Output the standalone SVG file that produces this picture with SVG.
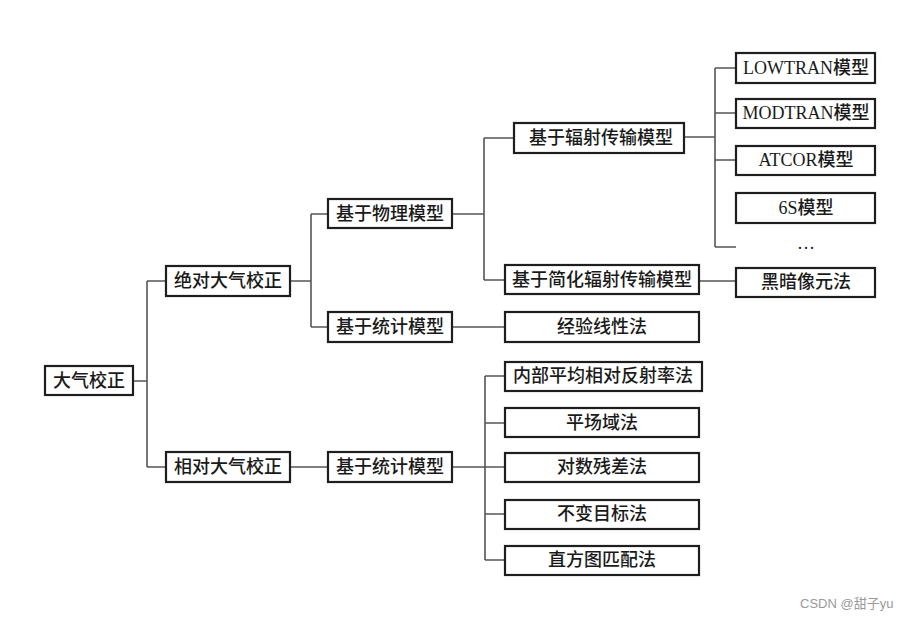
<svg xmlns="http://www.w3.org/2000/svg" width="907" height="617" viewBox="0 0 907 617">
<style>
.b{fill:#fff;stroke:#1e1e1e;stroke-width:2.2}
.t{font-family:"Liberation Serif","Noto Sans CJK SC",serif;font-size:18px;font-weight:500;fill:#1a1a1a;text-anchor:middle;dominant-baseline:central}
.c{fill:none;stroke:#555;stroke-width:1.6}
.w{font-family:"Liberation Sans","Noto Sans CJK SC",sans-serif;font-size:13px;fill:#999}
</style>
<rect width="907" height="617" fill="#fff"/>
<g id="connectors" class="c">
<path d="M133 381H147M147 281V467M147 281H166M147 467H166"/>
<path d="M290 281H311M311 214V327M311 214H328M311 327H328"/>
<path d="M452 214H484M484 138V280M484 138H514M484 280H505"/>
<path d="M452 327H505"/>
<path d="M684 137H715M715 68V247M715 68H736M715 113H736M715 160H736M715 247H736"/>
<path d="M699 281H736"/>
<path d="M290 467H328M452 467H485M485 376V560M485 376H505M485 423H505M485 467H505M485 514H505M485 560H505"/>
</g>
<g id="n0"><rect class="b" x="45" y="366" width="88" height="29"/><text class="t" x="89" y="381">大气校正</text></g>
<g id="n1"><rect class="b" x="166" y="266" width="124" height="30"/><text class="t" x="228" y="281">绝对大气校正</text></g>
<g id="n2"><rect class="b" x="166" y="452" width="124" height="30"/><text class="t" x="228" y="467">相对大气校正</text></g>
<g id="n3"><rect class="b" x="328" y="199" width="124" height="29"/><text class="t" x="390" y="214">基于物理模型</text></g>
<g id="n4"><rect class="b" x="328" y="312" width="124" height="30"/><text class="t" x="390" y="327">基于统计模型</text></g>
<g id="n5"><rect class="b" x="328" y="452" width="124" height="30"/><text class="t" x="390" y="467">基于统计模型</text></g>
<g id="n6"><rect class="b" x="514" y="123" width="170" height="30"/><text class="t" x="601" y="138">基于辐射传输模型</text></g>
<g id="n7"><rect class="b" x="505" y="265" width="194" height="29"/><text class="t" x="602" y="280">基于简化辐射传输模型</text></g>
<g id="n8"><rect class="b" x="505" y="312" width="194" height="30"/><text class="t" x="602" y="327">经验线性法</text></g>
<g id="n9"><rect class="b" x="736" y="53" width="139" height="30"/><text class="t" x="806" y="68">LOWTRAN模型</text></g>
<g id="n10"><rect class="b" x="736" y="99" width="139" height="29"/><text class="t" x="806" y="113">MODTRAN模型</text></g>
<g id="n11"><rect class="b" x="736" y="146" width="139" height="29"/><text class="t" x="806" y="160">ATCOR模型</text></g>
<g id="n12"><rect class="b" x="736" y="193" width="139" height="30"/><text class="t" x="806" y="208">6S模型</text></g>
<g id="n13"><text class="t" x="806" y="243">…</text></g>
<g id="n14"><rect class="b" x="736" y="268" width="139" height="29"/><text class="t" x="806" y="282">黑暗像元法</text></g>
<g id="n15"><rect class="b" x="505" y="362" width="197" height="29"/><text class="t" x="603" y="376">内部平均相对反射率法</text></g>
<g id="n16"><rect class="b" x="505" y="408" width="194" height="29"/><text class="t" x="602" y="423">平场域法</text></g>
<g id="n17"><rect class="b" x="505" y="453" width="194" height="29"/><text class="t" x="602" y="467">对数残差法</text></g>
<g id="n18"><rect class="b" x="505" y="500" width="194" height="29"/><text class="t" x="602" y="514">不变目标法</text></g>
<g id="n19"><rect class="b" x="505" y="546" width="194" height="29"/><text class="t" x="602" y="560">直方图匹配法</text></g>
<text class="w" x="800" y="608">CSDN @甜子yu</text>
</svg>
